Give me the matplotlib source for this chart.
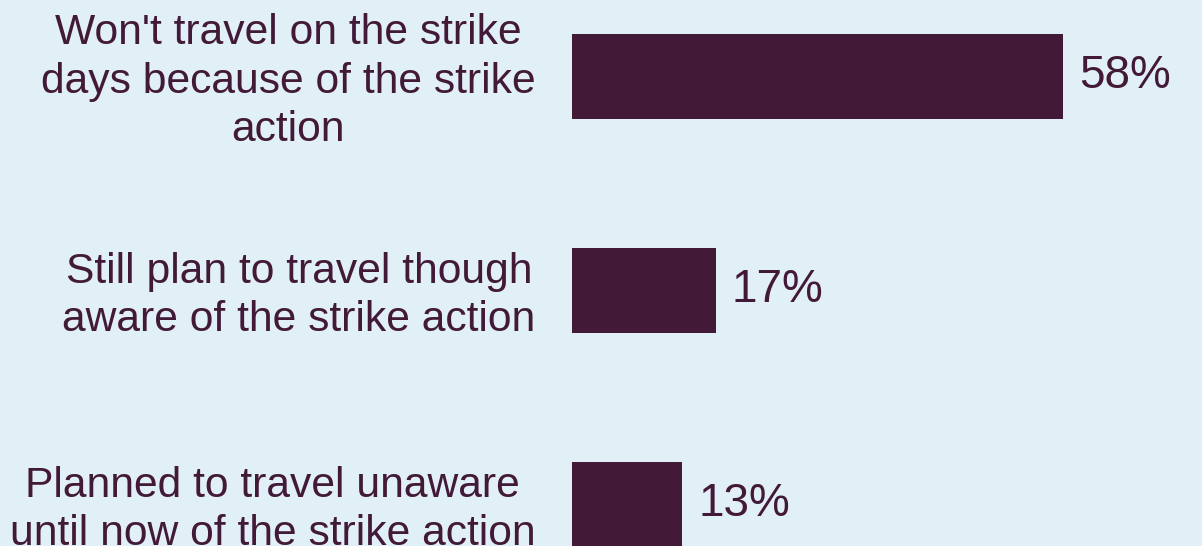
import matplotlib.pyplot as plt

plt.rcParams['font.family'] = ['Liberation Sans', 'DejaVu Sans']

# Data
categories = [
    "Won't travel on the strike\ndays because of the strike\naction",
    "Still plan to travel though\naware of the strike action",
    "Planned to travel unaware\nuntil now of the strike action",
]
values = [58, 17, 13]
value_labels = ["58%", "17%", "13%"]

bg = "#E1EFF6"
bar_col = "#421A38"

fig = plt.figure(figsize=(12.02, 5.46), dpi=100)
fig.patch.set_facecolor(bg)
ax = fig.add_axes([572 / 1202, 0, 630 / 1202, 1])
ax.set_facecolor(bg)

pos = list(range(len(values)))
ax.barh(pos, values, height=0.4, color=bar_col)

# 491 px for 58% -> ~8.47 px per percent
ax.set_xlim(0, 630 / (491 / 58))
ax.set_ylim(2.194, -0.357)

for p, v, lab in zip(pos, values, value_labels):
    ax.text(v + 1.9, p, lab, va='center', ha='left', fontsize=33, color=bar_col)

# labels sit a touch lower than the bar centre
for p, cat in zip(pos, categories):
    ax.text(-4.3, p + 0.025, cat, va='center', ha='right', multialignment='center',
            fontsize=30.7, color=bar_col, linespacing=1.275, clip_on=False)

ax.axis('off')

fig.savefig("out.png", dpi=100, facecolor=bg)
